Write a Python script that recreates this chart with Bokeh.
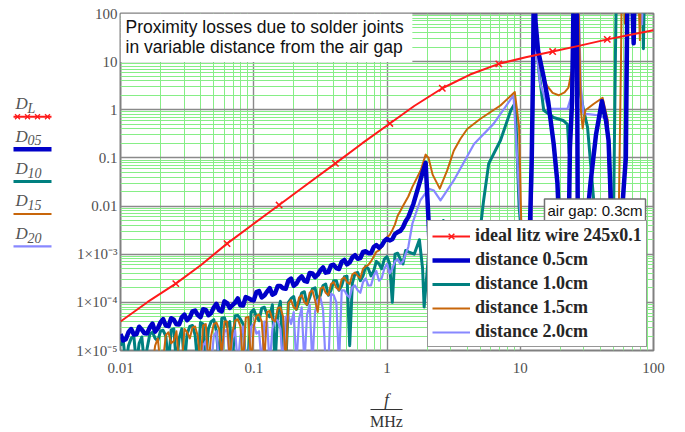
from bokeh.plotting import figure
from bokeh.models import (Range1d, FixedTicker, CustomJSTickFormatter, Legend, LegendItem,
                          Label, BoxAnnotation)
from bokeh.layouts import row, column
from bokeh.embed import file_html
from bokeh.resources import INLINE
from bokeh.core.properties import value

# ---------------- data ----------------
X_TICKS = [0.01, 0.1, 1, 10, 100]
X_TICK_LABELS = ["0.01", "0.1", "1", "10", "100"]
Y_TICKS = [1e-5, 1e-4, 1e-3, 0.01, 0.1, 1, 10, 100]
Y_TICK_LABELS = ["1\u00d710\u207b\u2075", "1\u00d710\u207b\u2074", "1\u00d710\u207b\u00b3",
                 "0.01", "0.1", "1", "10", "100"]

# ideal litz wire
F_L = [0.01, 0.016, 0.026, 0.04, 0.063, 0.1, 0.155, 0.25, 0.41, 0.65, 1.05, 1.6, 2.6,
       4.2, 6.9, 11, 17.5, 28, 45, 70, 100]
D_L = [4.0e-5, 1.02e-4, 2.45e-4, 5.9e-4, 1.66e-3, 4.3e-3, 0.0105, 0.028, 0.077, 0.2,
       0.52, 1.2, 2.8, 5.4, 9.0, 12.3, 16.2, 21.5, 29, 37, 45]
MARK_IDX = [2, 4, 6, 8, 10, 12, 14, 16, 18]

# low-frequency sample grid (MHz) and in-between samples
F_NOISE = [0.0100, 0.01096, 0.01202, 0.01318, 0.01445, 0.01585, 0.01738, 0.01905, 0.02089, 0.02291,
           0.02512, 0.02754, 0.03020, 0.03311, 0.03631, 0.03981, 0.04365, 0.04786, 0.05248, 0.05754,
           0.06310, 0.06918, 0.07586, 0.08318, 0.09120, 0.1000, 0.1096, 0.1202, 0.1318, 0.1445,
           0.1585, 0.1738, 0.1905, 0.2089, 0.2291, 0.2512, 0.2754, 0.3020, 0.3311, 0.3631,
           0.3981, 0.4365, 0.4786, 0.5248, 0.5754, 0.6310, 0.6918, 0.7586, 0.8318, 0.9120,
           1.000, 1.096, 1.202, 1.318, 1.445]
F_MID = [0.01047, 0.01148, 0.01259, 0.0138, 0.01514, 0.0166, 0.0182, 0.01995, 0.02188, 0.02399,
         0.0263, 0.02884, 0.03162, 0.03467, 0.03802, 0.04169, 0.04571, 0.05012, 0.05495, 0.06026,
         0.06607, 0.07244, 0.07943, 0.0871, 0.0955, 0.1047, 0.1148, 0.1259, 0.138, 0.1514,
         0.166, 0.182, 0.1995, 0.2188, 0.2399, 0.263, 0.2884, 0.3162, 0.3467, 0.3802,
         0.4169, 0.4571, 0.5012, 0.5495, 0.6026, 0.6607, 0.7244, 0.7943, 0.871, 0.955,
         1.047, 1.148, 1.259, 1.38]

D05_LOW = [2.19e-5, 1.71e-5, 2.79e-5, 2.18e-5, 2.70e-5, 2.26e-5, 3.61e-5, 2.88e-5, 4.49e-5, 3.20e-5,
           4.35e-5, 3.48e-5, 5.55e-5, 4.85e-5, 6.75e-5, 4.92e-5, 7.0e-5, 6.0e-5, 9.33e-5, 6.5e-5,
           9.68e-5, 8.69e-5, 1.21e-4, 8.59e-5, 1.22e-4, 1.10e-4, 1.71e-4, 1.39e-4, 1.98e-4, 1.54e-4,
           2.19e-4, 1.91e-4, 3.12e-4, 2.43e-4, 3.45e-4, 2.69e-4, 4.0e-4, 3.75e-4, 5.32e-4, 4.25e-4,
           6.03e-4, 4.92e-4, 7.59e-4, 6.76e-4, 9.55e-4, 8.32e-4, 1.15e-3, 1.05e-3, 1.55e-3, 1.51e-3,
           2.09e-3, 2.04e-3, 2.88e-3, 3.63e-3, 5.89e-3]
D05_MID = [1.61e-5, 2.40e-5, 2.15e-5, 3.12e-5, 2.28e-5, 3.02e-5, 2.47e-5, 3.85e-5, 3.30e-5, 4.69e-5,
           3.50e-5, 4.87e-5, 4.27e-5, 6.5e-5, 5.44e-5, 7.22e-5, 5.39e-5, 7.83e-5, 6.86e-5, 1.05e-4,
           7.63e-5, 9.9e-5, 8.67e-5, 1.29e-4, 1.13e-4, 1.63e-4, 1.27e-4, 1.68e-4, 1.44e-4, 2.18e-4,
           1.95e-4, 2.84e-4, 2.21e-4, 3.07e-4, 2.81e-4, 4.08e-4, 3.33e-4, 4.62e-4, 4.14e-4, 5.87e-4,
           5.14e-4, 6.93e-4, 6.17e-4, 8.61e-4, 8.04e-4, 1.11e-3, 1.05e-3, 1.41e-3, 1.36e-3, 1.88e-3,
           1.93e-3, 2.63e-3, 3.05e-3, 4.84e-3]
F05_HIGH = [1.58, 1.72, 1.85, 1.95, 2.0, 2.05, 2.1, 3.0, 6.0, 10.0, 11.8, 12.2, 12.5, 12.7,
            13.0, 13.6, 15.0, 16.2, 17.8, 19.0, 20.0, 23.0, 23.6, 24.5, 25.0, 25.3, 26.5, 27.0,
            30.0, 33.7, 37.0, 41.0, 44.0, 46.0, 48.0, 55.0, 62.0, 64.0, 68.0, 71.0, 72.5, 100.0]
D05_HIGH = [0.0112, 0.025, 0.05, 0.079, 0.02, 5.0e-3, 1.0e-3, 4.0e-4, 3.0e-4, 6.0e-4, 3.0e-3, 0.1,
            10, 1000, 70, 17, 4.7, 1.5, 0.2, 0.031, 1.0e-3, 1.0e-3, 0.166, 1.5, 70, 1000, 1000, 0.01,
            1.0e-3, 0.031, 0.3, 1.5, 0.6, 0.23, 0.01, 1.0e-3, 0.1, 1000, 1000, 24, 1000, 1000]

D10_LOW = [1.26e-5, 5.0e-6, 1.78e-5, 5.0e-6, 1.91e-5, 1.12e-5, 2.40e-5, 1.58e-5, 2.63e-5, 5.0e-6,
           2.82e-5, 1.78e-5, 5.0e-6, 3.16e-5, 2.09e-5, 3.80e-5, 6.3e-6, 3.98e-5, 2.51e-5, 4.68e-5,
           3.16e-5, 5.0e-6, 5.37e-5, 3.55e-5, 7.9e-6, 7.1e-5, 4.17e-5, 7.9e-5, 5.0e-5, 5.0e-6,
           1.05e-4, 5.0e-6, 1.20e-4, 7.1e-5, 1.58e-4, 8.9e-5, 1.91e-4, 1.12e-4, 2.24e-4, 1.41e-4,
           2.82e-4, 1.78e-4, 3.39e-4, 1.26e-5, 3.98e-4, 2.82e-4, 5.6e-4, 3.55e-4, 7.1e-4, 5.0e-4,
           8.9e-4, 1.0e-4, 1.05e-3, 6.3e-4, 1.12e-3]
D10_MID = [1.66e-5, 1.26e-5, 2.0e-5, 1.41e-5, 5.0e-6, 2.19e-5, 1.78e-5, 2.51e-5, 2.0e-5, 2.69e-5,
           5.0e-6, 2.82e-5, 2.24e-5, 3.31e-5, 5.0e-6, 3.55e-5, 2.82e-5, 4.37e-5, 5.0e-6, 4.79e-5,
           3.98e-5, 5.25e-5, 4.47e-5, 5.0e-6, 6.3e-5, 5.0e-5, 7.6e-5, 5.6e-5, 8.9e-5, 6.3e-5,
           5.0e-6, 1.0e-4, 1.32e-4, 1.0e-4, 1.66e-4, 1.26e-4, 2.0e-4, 1.41e-4, 2.4e-4, 1.78e-4,
           2.82e-4, 2.24e-4, 3.47e-4, 2.51e-4, 4.17e-4, 3.55e-4, 5.0e-4, 4.47e-4, 6.3e-4, 7.9e-4,
           6.3e-4, 1.0e-3, 7.9e-4, 1.2e-3]
F10_HIGH = [1.6, 1.75, 1.85, 1.9, 2.05, 2.5, 2.65, 2.8, 3.5, 4.5, 4.9, 5.1, 5.3, 5.8, 7.1, 8.5,
            9.2, 9.5, 9.8, 10.5, 12.0, 12.4, 12.6, 13.0, 13.8, 15.0, 17.8, 21.0, 22.6, 23.3, 23.8,
            24.5, 25.2, 26.5, 27.5, 29.9, 32.0, 35.6, 37.0, 40.0, 50.0, 51.8, 53.0, 82.0, 84.0,
            86.0, 100.0]
D10_HIGH = [1.0e-3, 2.0e-3, 5.0e-4, 8.0e-5, 1.0e-3, 2.5e-3, 5.0e-3, 1.3e-3, 3.0e-4, 5.0e-4,
            1.0e-3, 5.0e-3, 0.0126, 0.076, 0.23, 0.98, 1.41, 0.1, 0.01, 1.0e-3, 1.6e-3, 1.0, 1000,
            70, 6.3, 0.98, 0.69, 0.6, 0.5, 0.123, 0.32, 3.2, 1000, 1000, 3.2, 0.98, 0.43, 0.013,
            4.7e-3, 1.0e-3, 3.0e-3, 15, 1000, 1000, 18.5, 1000, 1000]

D15_LOW = [5.0e-6, 5.0e-6, 5.0e-6, 5.0e-6, 5.0e-6, 5.0e-6, 5.0e-6, 1.78e-5, 6.3e-6, 2.40e-5,
           1.58e-5, 5.0e-6, 2.82e-5, 1.78e-5, 3.16e-5, 5.0e-6, 3.55e-5, 2.0e-5, 3.80e-5, 7.9e-6,
           3.98e-5, 2.40e-5, 4.47e-5, 5.0e-6, 5.0e-5, 3.16e-5, 5.6e-5, 6.3e-6, 6.6e-5, 3.98e-5,
           7.9e-5, 5.0e-6, 1.12e-4, 7.1e-5, 1.41e-4, 8.9e-5, 1.78e-4, 6.3e-5, 2.09e-4, 1.41e-4,
           2.63e-4, 1.78e-4, 3.31e-4, 2.40e-4, 4.17e-4, 3.16e-4, 5.6e-4, 7.1e-4, 1.12e-3, 1.41e-3,
           2.24e-3, 3.16e-3, 6.3e-3, 0.010, 0.0158]
D15_MID = [5.0e-6, 5.0e-6, 5.0e-6, 5.0e-6, 5.0e-6, 5.0e-6, 1.26e-5, 5.0e-6, 2.09e-5, 1.41e-5,
           2.51e-5, 5.0e-6, 2.4e-5, 3.02e-5, 2.0e-5, 3.31e-5, 5.0e-6, 3.55e-5, 2.82e-5, 3.98e-5,
           6.3e-6, 4.17e-5, 3.16e-5, 4.79e-5, 5.0e-6, 5.25e-5, 3.98e-5, 6.3e-5, 4.47e-5, 7.6e-5,
           5.0e-5, 9.5e-5, 7.9e-5, 1.26e-4, 1.0e-4, 1.58e-4, 1.12e-4, 1.91e-4, 1.58e-4, 2.4e-4,
           2.0e-4, 3.02e-4, 2.63e-4, 3.8e-4, 3.55e-4, 5.0e-4, 6.0e-4, 8.9e-4, 1.2e-3, 1.78e-3,
           2.51e-3, 4.17e-3, 7.9e-3, 0.0126]
F15_HIGH = [1.55, 1.79, 1.95, 2.05, 2.2, 2.49, 2.83, 3.17, 3.56, 4.0, 5.03, 7.1, 9.1, 9.8, 10.0,
            10.3, 12.0, 12.4, 12.6, 13.0, 14.1, 15.8, 17.5, 19.4, 21.5, 23.0, 24.6, 25.5, 26.0,
            27.0, 28.5, 29.4, 30.8, 35.5, 41.5, 45.4, 46.5, 48.0, 55.0, 57.0, 58.0, 60.0, 61.0,
            62.0, 76.0, 79.0, 81.0, 100.0]
D15_HIGH = [0.025, 0.055, 0.117, 0.1, 0.045, 0.023, 0.055, 0.141, 0.25, 0.40, 0.65, 1.23, 2.34,
            0.44, 0.04, 1.0e-3, 1.0e-3, 3.2, 1000, 38, 7.6, 3.2, 2.24, 2.0, 2.3, 2.9, 7.6, 38, 1000,
            1000, 1.0, 0.41, 0.98, 1.32, 1.78, 0.6, 0.03, 1.0e-3, 0.01, 10, 1000, 160, 62, 1000,
            1000, 28, 1000, 1000]

D20_LOW = [5.0e-6, 5.0e-6, 5.0e-6, 5.0e-6, 5.0e-6, 5.0e-6, 5.0e-6, 5.0e-6, 5.0e-6, 5.0e-6,
           5.0e-6, 5.0e-6, 5.0e-6, 5.0e-6, 5.0e-6, 5.0e-6, 1.58e-5, 5.0e-6, 2.51e-5, 5.0e-6,
           2.82e-5, 1.78e-5, 5.0e-6, 3.16e-5, 5.0e-6, 3.55e-5, 2.51e-5, 3.98e-5, 5.0e-6, 4.47e-5,
           2.82e-5, 5.0e-5, 3.55e-5, 5.0e-6, 7.9e-5, 5.6e-5, 5.0e-6, 1.12e-4, 7.1e-5, 5.0e-6,
           1.41e-4, 5.0e-6, 1.78e-4, 1.26e-4, 2.24e-4, 1.58e-4, 3.16e-4, 2.24e-4, 4.47e-4, 3.16e-4,
           6.3e-4, 5.0e-4, 7.9e-4, 7.1e-4, 1.41e-3]
D20_MID = [5.0e-6, 5.0e-6, 5.0e-6, 5.0e-6, 5.0e-6, 5.0e-6, 5.0e-6, 5.0e-6, 5.0e-6, 5.0e-6,
           5.0e-6, 5.0e-6, 5.0e-6, 5.0e-6, 5.0e-6, 1.26e-5, 5.0e-6, 2.0e-5, 5.0e-6, 2.4e-5,
           5.0e-6, 2.63e-5, 2.0e-5, 5.0e-6, 3.16e-5, 2.24e-5, 5.0e-6, 3.8e-5, 2.82e-5, 4.17e-5,
           5.0e-6, 5.25e-5, 6.3e-5, 4.47e-5, 5.0e-6, 8.9e-5, 6.3e-5, 1.26e-4, 5.0e-6, 1.51e-4,
           1.0e-4, 1.78e-4, 1.41e-4, 2.09e-4, 1.78e-4, 2.63e-4, 2.24e-4, 3.55e-4, 2.82e-4, 5.0e-4,
           3.98e-4, 7.1e-4, 6.3e-4, 1.0e-3]
F20_HIGH = [1.55, 1.78, 2.06, 2.25, 2.52, 3.17, 4.5, 6.3, 8.9, 9.5, 10.0, 10.5, 12.2, 12.5, 13.0,
            14.1, 16.3, 22.6, 24.5, 25.8, 26.3, 27.0, 28.5, 29.9, 39.8, 45.4, 47.0, 50.0, 60.0,
            62.0, 63.5, 80.0, 82.0, 84.0, 100.0]
D20_HIGH = [4.3e-3, 0.0132, 0.023, 0.021, 0.0132, 0.034, 0.195, 0.51, 2.0, 0.089, 6.9e-3, 2.5e-3,
            2.5e-3, 1000, 27.5, 3.5, 1.05, 1.05, 2.14, 17, 1000, 1000, 3.0, 0.83, 0.76, 0.6, 0.01,
            1.0e-3, 0.01, 10, 1000, 1000, 60, 1000, 1000]

SERIES_LABELS = ["ideal litz wire 245x0.1", "distance 0.5cm", "distance 1.0cm",
                 "distance 1.5cm", "distance 2.0cm"]
SIDE_SUBS = ["L", "05", "10", "15", "20"]
TITLE_LINES = ["Proximity losses due to solder joints", "in variable distance from the air gap"]
AIR_GAP_TEXT = "air gap: 0.3cm"

C_RED, C_BLUE, C_TEAL, C_ORANGE, C_LAV = "#ff1a1a", "#0000c8", "#008080", "#c8660a", "#8888ff"


def interleave(a, b):
    out = []
    for i in range(len(b)):
        out += [a[i], b[i]]
    return out + list(a[len(b):])


# ---------------- main plot ----------------
p = figure(width=625, height=385, x_axis_type="log", y_axis_type="log",
           x_range=Range1d(0.01, 100), y_range=Range1d(1e-5, 100),
           output_backend="svg", toolbar_location=None, title=None,
           min_border_left=60, min_border_right=32, min_border_top=13, min_border_bottom=35)
p.background_fill_color = "white"
p.border_fill_color = "white"
p.outline_line_color = "#808080"
p.outline_line_width = 2

x_minor = [m * t for t in X_TICKS[:-1] for m in range(2, 10)]
y_minor = [m * t for t in Y_TICKS[:-1] for m in range(2, 10)]
p.xaxis.ticker = FixedTicker(ticks=X_TICKS, minor_ticks=x_minor)
p.yaxis.ticker = FixedTicker(ticks=Y_TICKS, minor_ticks=y_minor)
fmt_code = """
let best = 0, d = Infinity;
for (let i = 0; i < tk.length; i++) {
  const e = Math.abs(Math.log10(tk[i]) - Math.log10(tick));
  if (e < d) { d = e; best = i; }
}
return lb[best];
"""
p.xaxis.formatter = CustomJSTickFormatter(args=dict(tk=X_TICKS, lb=X_TICK_LABELS), code=fmt_code)
p.yaxis.formatter = CustomJSTickFormatter(args=dict(tk=Y_TICKS, lb=Y_TICK_LABELS), code=fmt_code)
for ax in (p.xaxis, p.yaxis):
    ax.axis_line_color = None
    ax.major_tick_line_color = None
    ax.minor_tick_line_color = None
    ax.major_tick_out = 0
    ax.major_tick_in = 0
    ax.minor_tick_out = 0
    ax.minor_tick_in = 0
    ax.major_label_text_font = "Liberation Serif"
    ax.major_label_text_font_size = "15px"
    ax.major_label_text_color = "#505050"
p.xaxis.major_label_standoff = 12
p.yaxis.major_label_standoff = 3

for g in (p.xgrid, p.ygrid):
    g.grid_line_color = "#8a8a8a"
    g.grid_line_width = 1.4
    g.minor_grid_line_color = "#86ee86"
    g.minor_grid_line_width = 1

# title white box
p.add_layout(BoxAnnotation(left=0.01, right=1.55, bottom=9.8, top=100,
                           fill_color="white", fill_alpha=1, line_color=None, level="underlay"))

f_low = interleave(F_NOISE, F_MID)
r10 = p.line(f_low + F10_HIGH, interleave(D10_LOW, D10_MID) + D10_HIGH,
             line_color=C_TEAL, line_width=3, line_join="round")
r20 = p.line(f_low + F20_HIGH, interleave(D20_LOW, D20_MID) + D20_HIGH,
             line_color=C_LAV, line_width=2.2, line_join="round")
r15 = p.line(f_low + F15_HIGH, interleave(D15_LOW, D15_MID) + D15_HIGH,
             line_color=C_ORANGE, line_width=2, line_join="round")
r05 = p.line(f_low + F05_HIGH, interleave(D05_LOW, D05_MID) + D05_HIGH,
             line_color=C_BLUE, line_width=4.5, line_join="round")
rL = p.line(F_L, D_L, line_color=C_RED, line_width=2)
rLm = p.scatter([F_L[i] for i in MARK_IDX], [D_L[i] for i in MARK_IDX], marker="x", size=9,
                line_color=C_RED, line_width=1.5)

for i, txt in enumerate(TITLE_LINES):
    p.add_layout(Label(x=0.0109, y=[51.2, 19.7][i], text=txt, text_font="Liberation Sans",
                       text_font_size="17.5px", text_color="#111111",
                       text_align="left", text_baseline="middle"))

p.add_layout(Label(x=15.2, y=8.1e-3, text=AIR_GAP_TEXT, text_font="Liberation Sans",
                   text_font_size="15px", text_color="#111111", text_align="left",
                   text_baseline="middle", background_fill_color="white",
                   border_line_color="#707070", border_line_width=1.5, padding=3))

legend = Legend(items=[LegendItem(label=SERIES_LABELS[0], renderers=[rL, rLm]),
                       LegendItem(label=SERIES_LABELS[1], renderers=[r05]),
                       LegendItem(label=SERIES_LABELS[2], renderers=[r10]),
                       LegendItem(label=SERIES_LABELS[3], renderers=[r15]),
                       LegendItem(label=SERIES_LABELS[4], renderers=[r20])],
                location=(307, 3))
legend.label_text_font = "Liberation Serif"
legend.label_text_font_size = "18px"
legend.label_text_font_style = "bold"
legend.label_text_color = "#262626"
legend.border_line_color = "#303030"
legend.border_line_width = 1.5
legend.background_fill_alpha = 1
legend.glyph_width = 38
legend.glyph_height = 20
legend.label_height = 20
legend.label_width = 165
legend.spacing = 3
legend.padding = 4
legend.margin = 0
legend.label_standoff = 5
p.add_layout(legend)

# ---------------- left side labels ----------------
lf = figure(width=60, height=385, x_range=Range1d(0, 60), y_range=Range1d(385, 0),
            output_backend="svg", toolbar_location=None, title=None,
            x_axis_location=None, y_axis_location=None, min_border=0)
lf.grid.visible = False
lf.outline_line_color = None
side_colors = [C_RED, C_BLUE, C_TEAL, C_ORANGE, C_LAV]
side_widths = [2, 4.5, 3, 2, 2.2]
for i, sub in enumerate(SIDE_SUBS):
    ty = 103 + 37 * i
    ly = 118 + 37 * i
    lf.text([15], [ty], text=["D"], text_font=value("Liberation Serif"), text_font_style="italic",
            text_font_size="17px", text_color="#555555", text_baseline="middle", text_align="left")
    lf.text([27], [ty + 5], text=[sub], text_font=value("Liberation Serif"), text_font_style="italic",
            text_font_size="14px", text_color="#555555", text_baseline="middle", text_align="left")
    lf.line([13, 51], [ly, ly], line_color=side_colors[i], line_width=side_widths[i])
lf.scatter([17, 27, 37, 47], [118, 118, 118, 118], marker="x", size=7, line_color=C_RED, line_width=1.3)

# ---------------- x axis label ----------------
bf = figure(width=685, height=47, x_range=Range1d(0, 685), y_range=Range1d(47, 0),
            output_backend="svg", toolbar_location=None, title=None,
            x_axis_location=None, y_axis_location=None, min_border=0)
bf.grid.visible = False
bf.outline_line_color = None
bf.text([386], [14], text=["f"], text_font=value("Liberation Serif"), text_font_style="italic",
        text_font_size="17px", text_color="#333333", text_align="center", text_baseline="middle")
bf.line([370, 402], [24, 24], line_color="#333333", line_width=1.2)
bf.text([386], [36], text=["MHz"], text_font=value("Liberation Serif"),
        text_font_size="16px", text_color="#333333", text_align="center", text_baseline="middle")

layout = column(row(lf, p), bf)
open("out.html", "w").write(file_html(layout, INLINE))
